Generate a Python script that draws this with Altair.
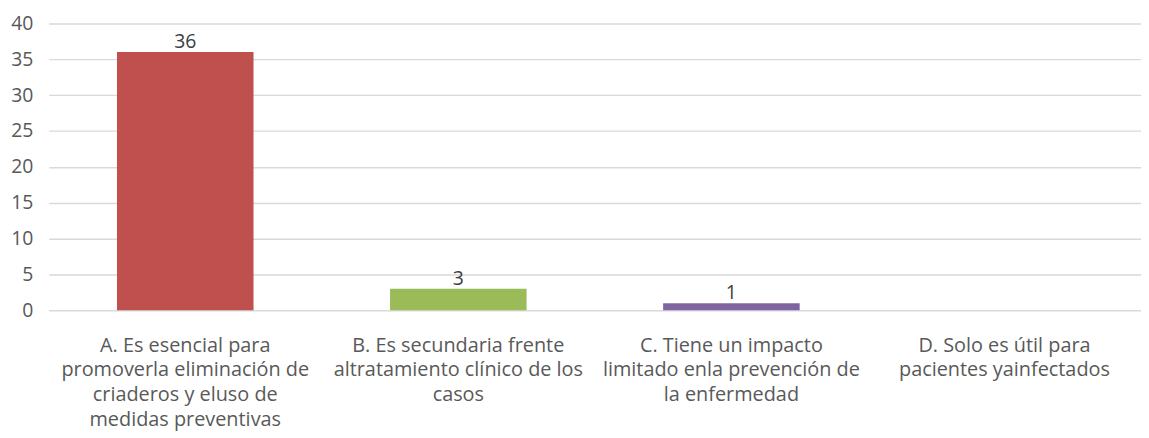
import altair as alt
import pandas as pd

categories = [
    "A. Es esencial para|promoverla eliminación de|criaderos y eluso de|medidas preventivas",
    "B. Es secundaria frente|altratamiento clínico de los|casos",
    "C. Tiene un impacto|limitado enla prevención de|la enfermedad",
    "D. Solo es útil para|pacientes yainfectados",
]
values = [36, 3, 1, 0]
labels = ["36", "3", "1", ""]
colors = ["#C0504D", "#9BBB59", "#8064A2", "#4BACC6"]
y_ticks = [0, 5, 10, 15, 20, 25, 30, 35, 40]

df = pd.DataFrame({"cat": categories, "val": values, "lab": labels, "col": colors})

FONT = "Open Sans"

x = alt.X(
    "cat:N",
    sort=categories,
    title=None,
    scale=alt.Scale(paddingInner=0.5, paddingOuter=0.25),
    axis=alt.Axis(
        labelAngle=0,
        labelExpr="split(datum.label, '|')",
        labelFont=FONT,
        labelFontSize=20,
        labelColor="#595959",
        labelLineHeight=25,
        labelPadding=25,
        labelLimit=0,
        ticks=False,
        domain=False,
        grid=False,
    ),
)

y = alt.Y(
    "val:Q",
    title=None,
    scale=alt.Scale(domain=[0, 40]),
    axis=alt.Axis(
        values=y_ticks,
        labelOverlap=False,
        labelFont=FONT,
        labelFontSize=19.5,
        labelColor="#595959",
        labelPadding=16,
        ticks=False,
        domain=False,
        gridColor="#D9D9D9",
        gridWidth=1.5,
        minExtent=41,
        maxExtent=41,
    ),
)

base = alt.Chart(df).encode(x=x, y=y)

bars = base.mark_bar().encode(
    color=alt.Color("col:N", scale=None, legend=None),
)

text = base.mark_text(
    baseline="bottom", dy=0, font=FONT, fontSize=19.5, color="#404040"
).encode(
    text="lab:N",
)

chart = (
    alt.layer(bars, text)
    .properties(width=1100, height=289, padding={"top": 4, "left": 0, "right": 0, "bottom": 0})
    .configure_view(stroke=None)
)

chart.save("out.html", embed_options={"renderer": "svg", "actions": False})
